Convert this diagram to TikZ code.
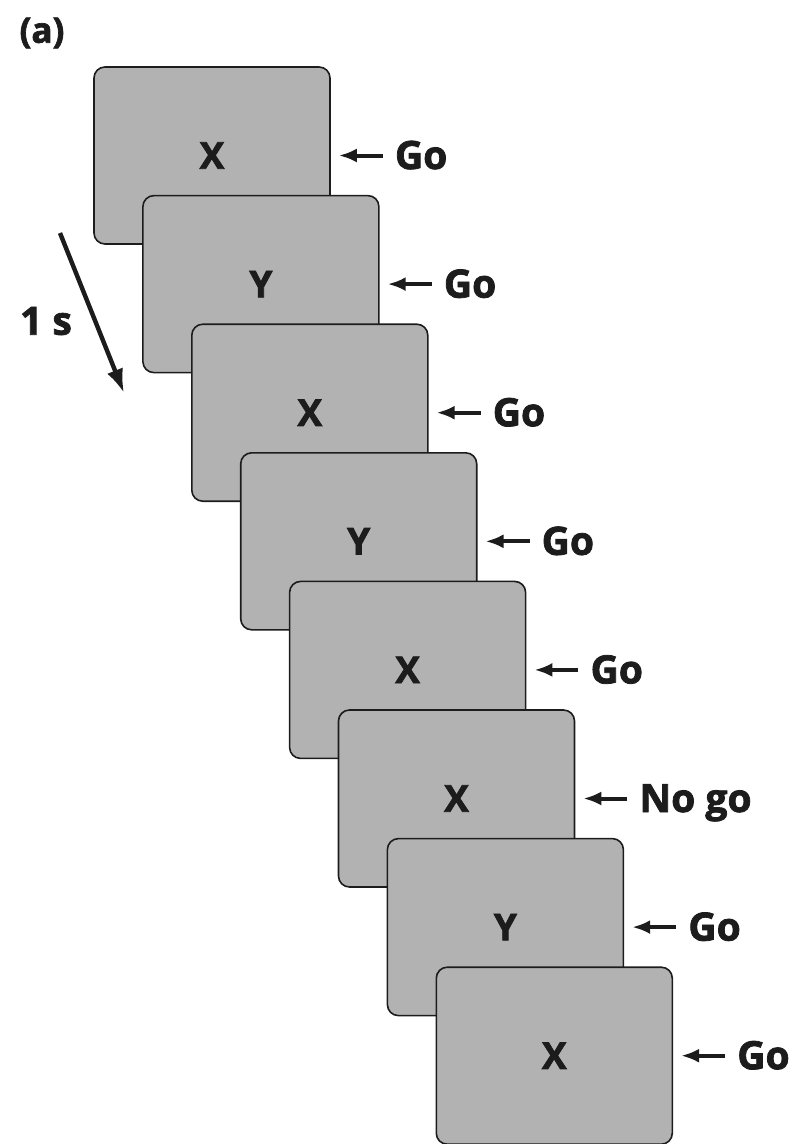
\documentclass[tikz,border=0pt]{standalone}
\usepackage{fontspec}
\setmainfont{Open Sans}[BoldFeatures={FakeBold=2}]
\usetikzlibrary{positioning, arrows.meta}
\definecolor{CardGray}{RGB}{178,178,178}
\definecolor{InkBlack}{RGB}{28,28,28}

\begin{document}
\begin{tikzpicture}[x=1pt, y=-1pt,
  every node/.style={font=\bfseries\fontsize{39}{42}\selectfont, text=InkBlack},
  card/.style={draw=InkBlack, line width=1.6pt, rounded corners=11pt, fill=CardGray, minimum width=236pt, minimum height=177pt, inner sep=0pt, font=\bfseries\fontsize{37}{40}\selectfont},
  resp/.style={anchor=west, inner sep=0pt, text height=27pt, text depth=0pt},
  arrow/.style={-{Latex[length=18pt, width=14pt]}, line width=4pt, InkBlack},
  timearrow/.style={-{Latex[length=24pt, width=17pt]}, line width=4.4pt, InkBlack}
]
\useasboundingbox (0,0) rectangle (795,1144);

% Panel letter
\node[font=\bfseries\fontsize{35}{38}\selectfont] (panel) at (42,33) {(a)};

% Time axis
\coordinate (tstart) at (60,233);
\coordinate (tend) at (124,393);
\draw[timearrow] (tstart) -- (tend);
\node (tlabel) at (46,321) {1 s};

% Stimulus 1
\node[card] (stim1) at (212,155.5) {X};
\node[resp, right=64pt of stim1] (resp1) {Go};
\draw[arrow, shorten <=12pt, shorten >=8pt] (resp1.west) -- (stim1.east);

% Stimulus 2
\node[card] (stim2) at (260.9,284.1) {Y};
\node[resp, right=64pt of stim2] (resp2) {Go};
\draw[arrow, shorten <=12pt, shorten >=8pt] (resp2.west) -- (stim2.east);

% Stimulus 3
\node[card] (stim3) at (309.8,412.7) {X};
\node[resp, right=64pt of stim3] (resp3) {Go};
\draw[arrow, shorten <=12pt, shorten >=8pt] (resp3.west) -- (stim3.east);

% Stimulus 4
\node[card] (stim4) at (358.7,541.3) {Y};
\node[resp, right=64pt of stim4] (resp4) {Go};
\draw[arrow, shorten <=12pt, shorten >=8pt] (resp4.west) -- (stim4.east);

% Stimulus 5
\node[card] (stim5) at (407.6,669.9) {X};
\node[resp, right=64pt of stim5] (resp5) {Go};
\draw[arrow, shorten <=12pt, shorten >=8pt] (resp5.west) -- (stim5.east);

% Stimulus 6: the no-go trial
\node[card] (stim6) at (456.5,798.5) {X};
\node[resp, right=64pt of stim6] (resp6) {No go};
\draw[arrow, shorten <=12pt, shorten >=8pt] (resp6.west) -- (stim6.east);

% Stimulus 7
\node[card] (stim7) at (505.4,927.1) {Y};
\node[resp, right=64pt of stim7] (resp7) {Go};
\draw[arrow, shorten <=12pt, shorten >=8pt] (resp7.west) -- (stim7.east);

% Stimulus 8
\node[card] (stim8) at (554.3,1055.7) {X};
\node[resp, right=64pt of stim8] (resp8) {Go};
\draw[arrow, shorten <=12pt, shorten >=8pt] (resp8.west) -- (stim8.east);

\end{tikzpicture}
\end{document}
